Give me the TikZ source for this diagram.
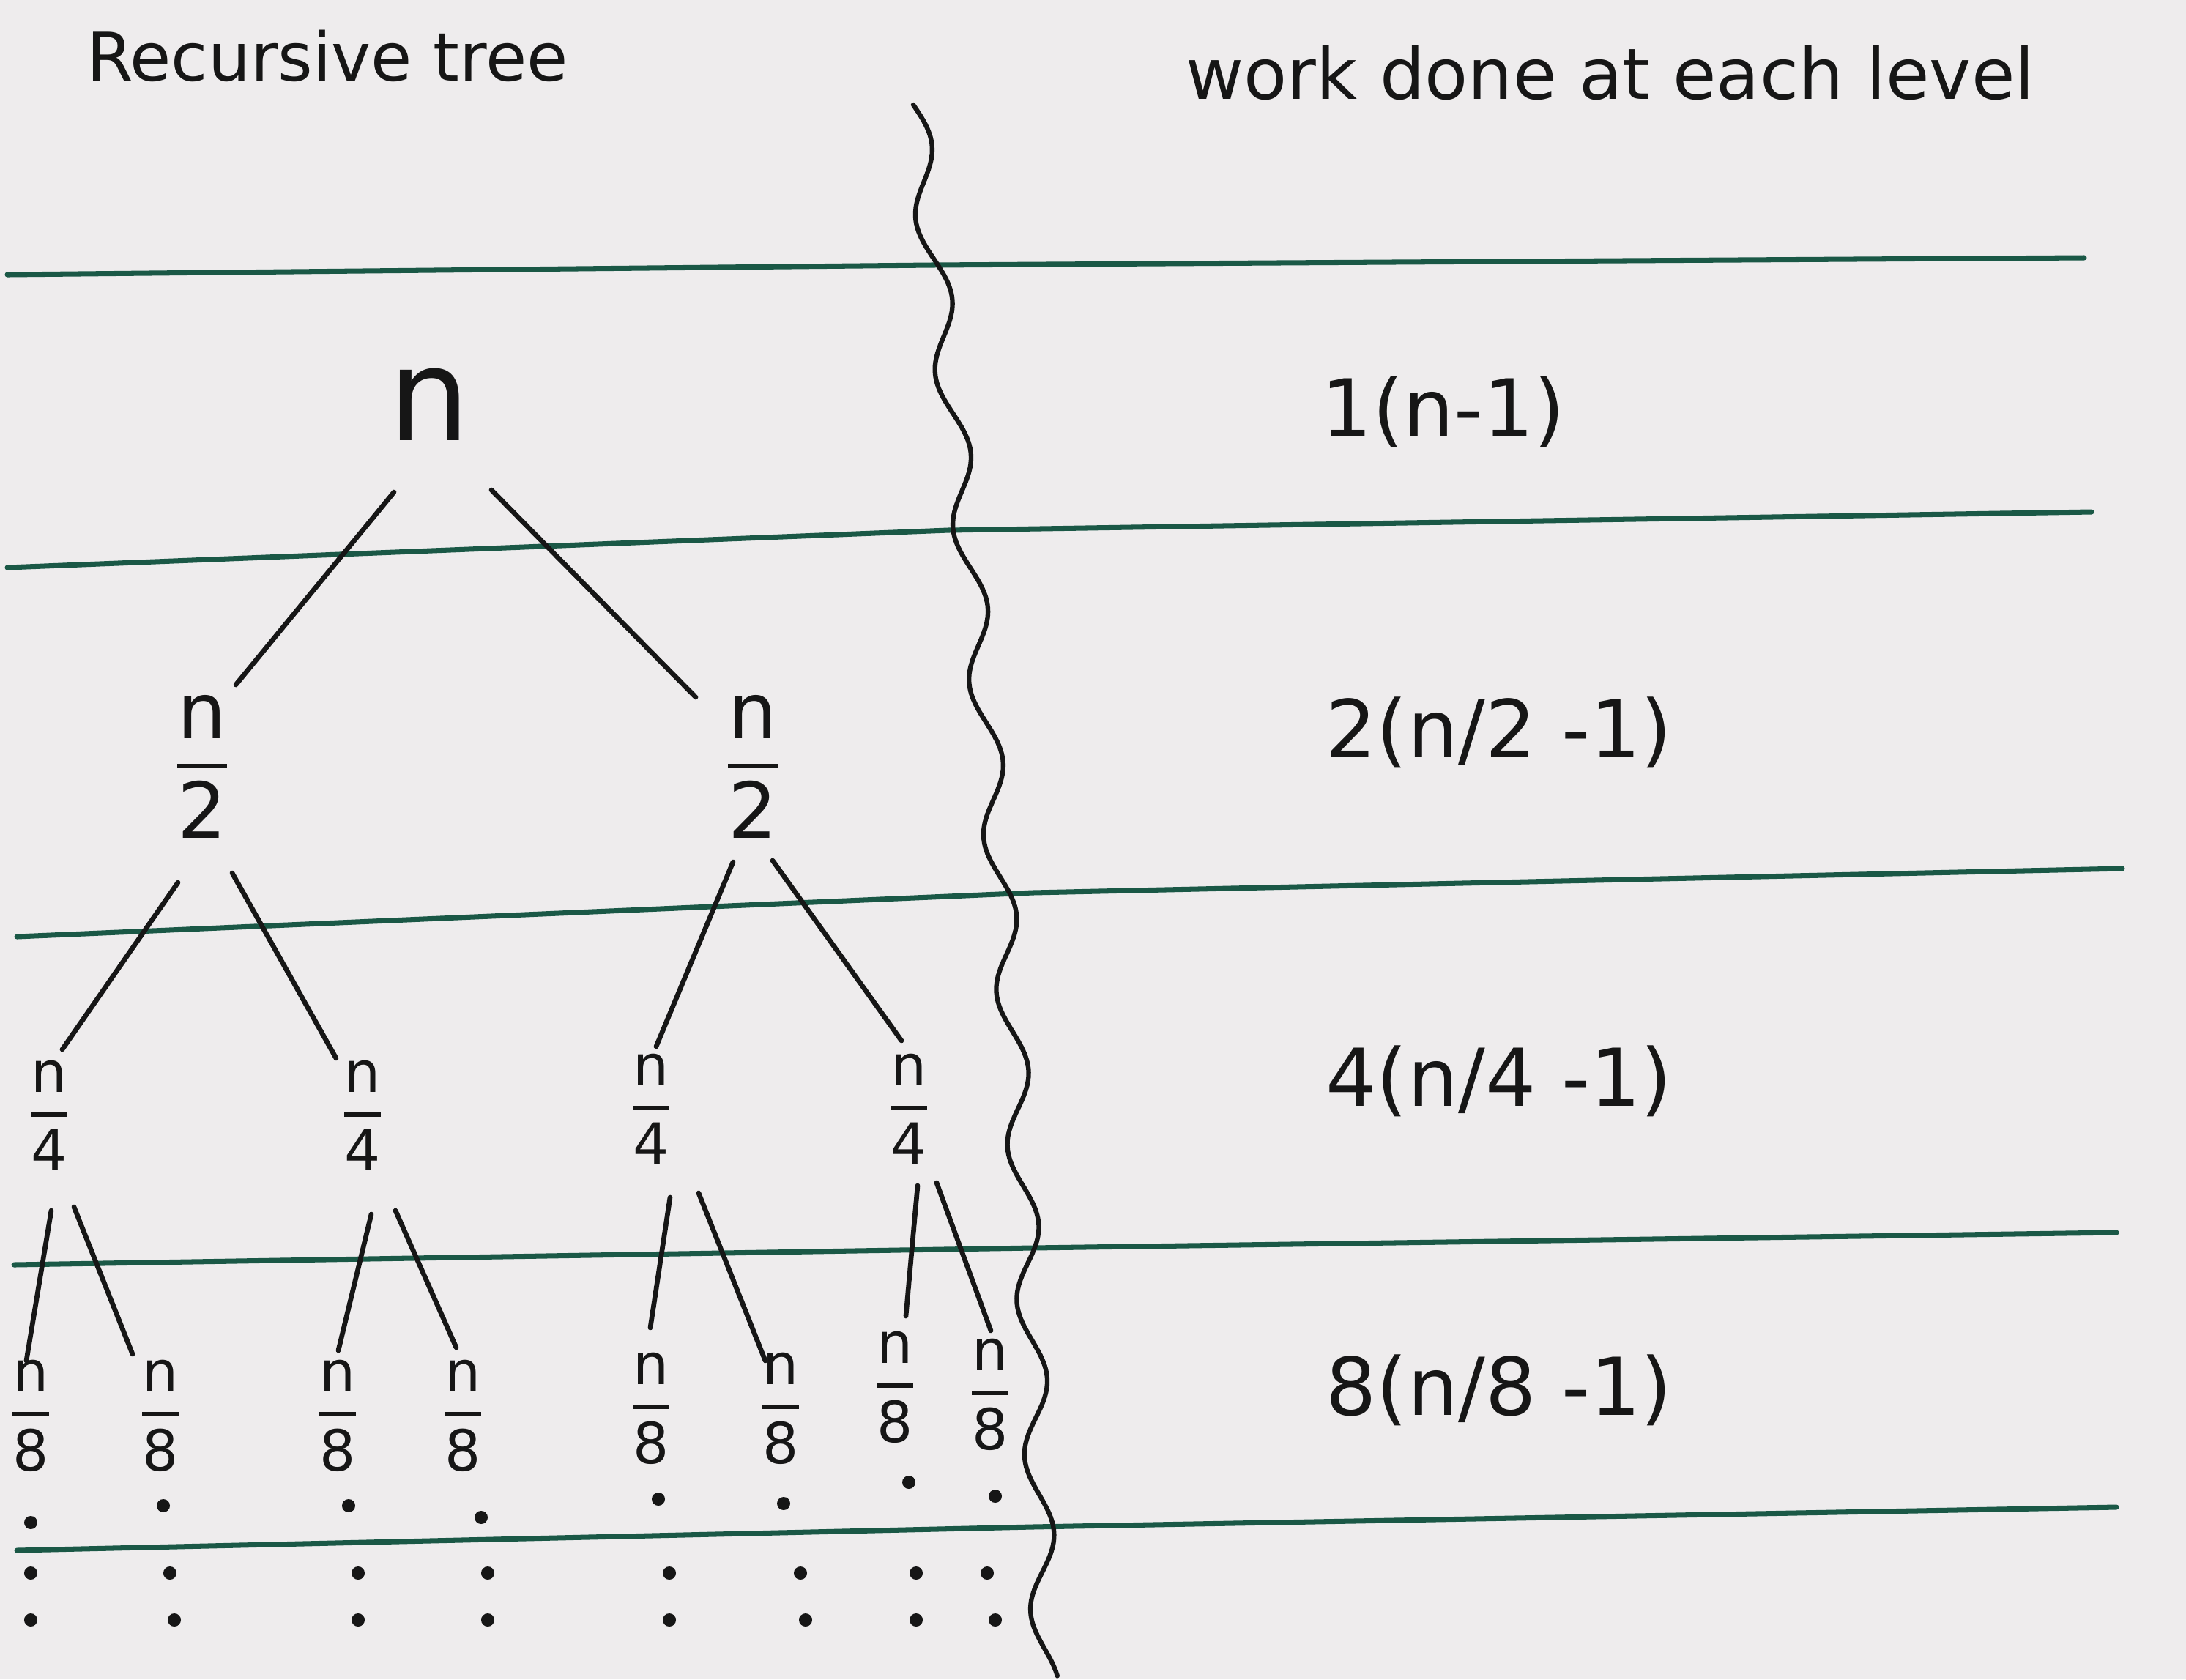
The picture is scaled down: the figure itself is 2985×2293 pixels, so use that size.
\documentclass[tikz,border=0pt]{standalone}
\usepackage{amsmath}
\usepackage{fontspec}
\setmainfont{DejaVu Sans}

\definecolor{paper}{RGB}{238,236,237}
\definecolor{ink}{RGB}{22,22,22}
\definecolor{rulegreen}{RGB}{26,88,70}

% n over k, with a heavier bar like the hand-drawn fractions
\newcommand{\nfrac}[1]{\ensuremath{\genfrac{}{}{1.6pt}{0}{\mbox{n}}{\mbox{#1}}}}

\begin{document}
\begin{tikzpicture}[
    x=0.01cm, y=-0.01cm,
    every node/.style={text=ink, inner sep=0pt},
    title/.style={font=\fontsize{26}{30}\selectfont},
    worklabel/.style={font=\fontsize{31}{36}\selectfont},
    rootlabel/.style={font=\fontsize{50}{60}\selectfont},
    halflabel/.style={font=\fontsize{30}{36}\selectfont},
    smalllabel/.style={font=\fontsize{22}{26}\selectfont},
    levelline/.style={draw=rulegreen, line width=2pt, line cap=round, line join=round},
    edge/.style={draw=ink, line width=1.9pt, line cap=round}
]
\useasboundingbox (0,0) rectangle (2985,2293);
\fill[paper] (0,0) rectangle (2985,2293);

% Headings
\node[title] (treehead) at (447,76) {Recursive tree};
\node[title, font=\fontsize{27.5}{32}\selectfont] (workhead) at (2199,99) {work done at each level};

% Level separators
\draw[levelline] (10,375) -- (1272,362) -- (2846,352);
\draw[levelline] (10,775) -- (1295,724) -- (2856,699);
\draw[levelline] (23,1279) -- (1410,1219) -- (2898,1186);
\draw[levelline] (19,1727) -- (1409,1704) -- (2890,1683);
\draw[levelline] (23,2117) -- (1409,2085) -- (2890,2058);

% Divider
\draw[ink, line width=1.8pt, line cap=round]
    plot[domain=0:1, samples=320, smooth]
    ({1247+181*\x+120*\x*(1-\x)+18*sin(3670*\x)}, {143+2150*\x});

% Tree
\node[rootlabel] (root) at (586,552) {n};

\node[halflabel] (h1) at (276,1047) {\nfrac{2}};
\node[halflabel] (h2) at (1028,1047) {\nfrac{2}};

\node[smalllabel] (q1) at (67,1523) {\nfrac{4}};
\node[smalllabel] (q2) at (495,1523) {\nfrac{4}};
\node[smalllabel] (q3) at (889,1514) {\nfrac{4}};
\node[smalllabel] (q4) at (1241,1514) {\nfrac{4}};

\node[smalllabel] (e1) at (42,1933) {\nfrac{8}};
\node[smalllabel] (e2) at (219,1933) {\nfrac{8}};
\node[smalllabel] (e3) at (461,1933) {\nfrac{8}};
\node[smalllabel] (e4) at (632,1933) {\nfrac{8}};
\node[smalllabel] (e5) at (889,1923) {\nfrac{8}};
\node[smalllabel] (e6) at (1066,1923) {\nfrac{8}};
\node[smalllabel] (e7) at (1222,1894) {\nfrac{8}};
\node[smalllabel] (e8) at (1352,1904) {\nfrac{8}};

\draw[edge] ([shift={(-48,120)}]root.center) -- ([shift={(46,-112)}]h1.center);
\draw[edge] ([shift={(85,117)}]root.center) -- ([shift={(-78,-95)}]h2.center);

\draw[edge] ([shift={(-33,158)}]h1.center) -- ([shift={(18,-90)}]q1.center);
\draw[edge] ([shift={(41,145)}]h1.center) -- ([shift={(-36,-78)}]q2.center);
\draw[edge] ([shift={(-27,130)}]h2.center) -- ([shift={(7,-85)}]q3.center);
\draw[edge] ([shift={(27,128)}]h2.center) -- ([shift={(-10,-93)}]q4.center);

\draw[edge] ([shift={(3,130)}]q1.center) -- ([shift={(-6,-75)}]e1.center);
\draw[edge] ([shift={(34,125)}]q1.center) -- ([shift={(-38,-84)}]e2.center);
\draw[edge] ([shift={(12,135)}]q2.center) -- ([shift={(1,-89)}]e3.center);
\draw[edge] ([shift={(45,130)}]q2.center) -- ([shift={(-9,-93)}]e4.center);
\draw[edge] ([shift={(26,121)}]q3.center) -- ([shift={(-1,-110)}]e5.center);
\draw[edge] ([shift={(65,115)}]q3.center) -- ([shift={(-21,-65)}]e6.center);
\draw[edge] ([shift={(12,105)}]q4.center) -- ([shift={(15,-97)}]e7.center);
\draw[edge] ([shift={(38,101)}]q4.center) -- ([shift={(1,-87)}]e8.center);

% Continuation dots
\foreach \x/\y in {42/2079, 223/2056, 476/2056, 657/2072, 899/2047, 1070/2053, 1241/2024, 1359/2043}
    \fill[ink] (\x,\y) circle (0.09cm);
\foreach \x in {42, 232, 489, 666, 914, 1093, 1251, 1348}
    \fill[ink] (\x,2148) circle (0.09cm);
\foreach \x in {42, 238, 489, 666, 914, 1100, 1251, 1359}
    \fill[ink] (\x,2212) circle (0.09cm);

% Work per level
\node[worklabel] (w1) at (1971,562) {1(n-1)};
\node[worklabel] (w2) at (2047,1000) {2(n/2 -1)};
\node[worklabel] (w3) at (2047,1476) {4(n/4 -1)};
\node[worklabel] (w4) at (2047,1898) {8(n/8 -1)};
\end{tikzpicture}
\end{document}
